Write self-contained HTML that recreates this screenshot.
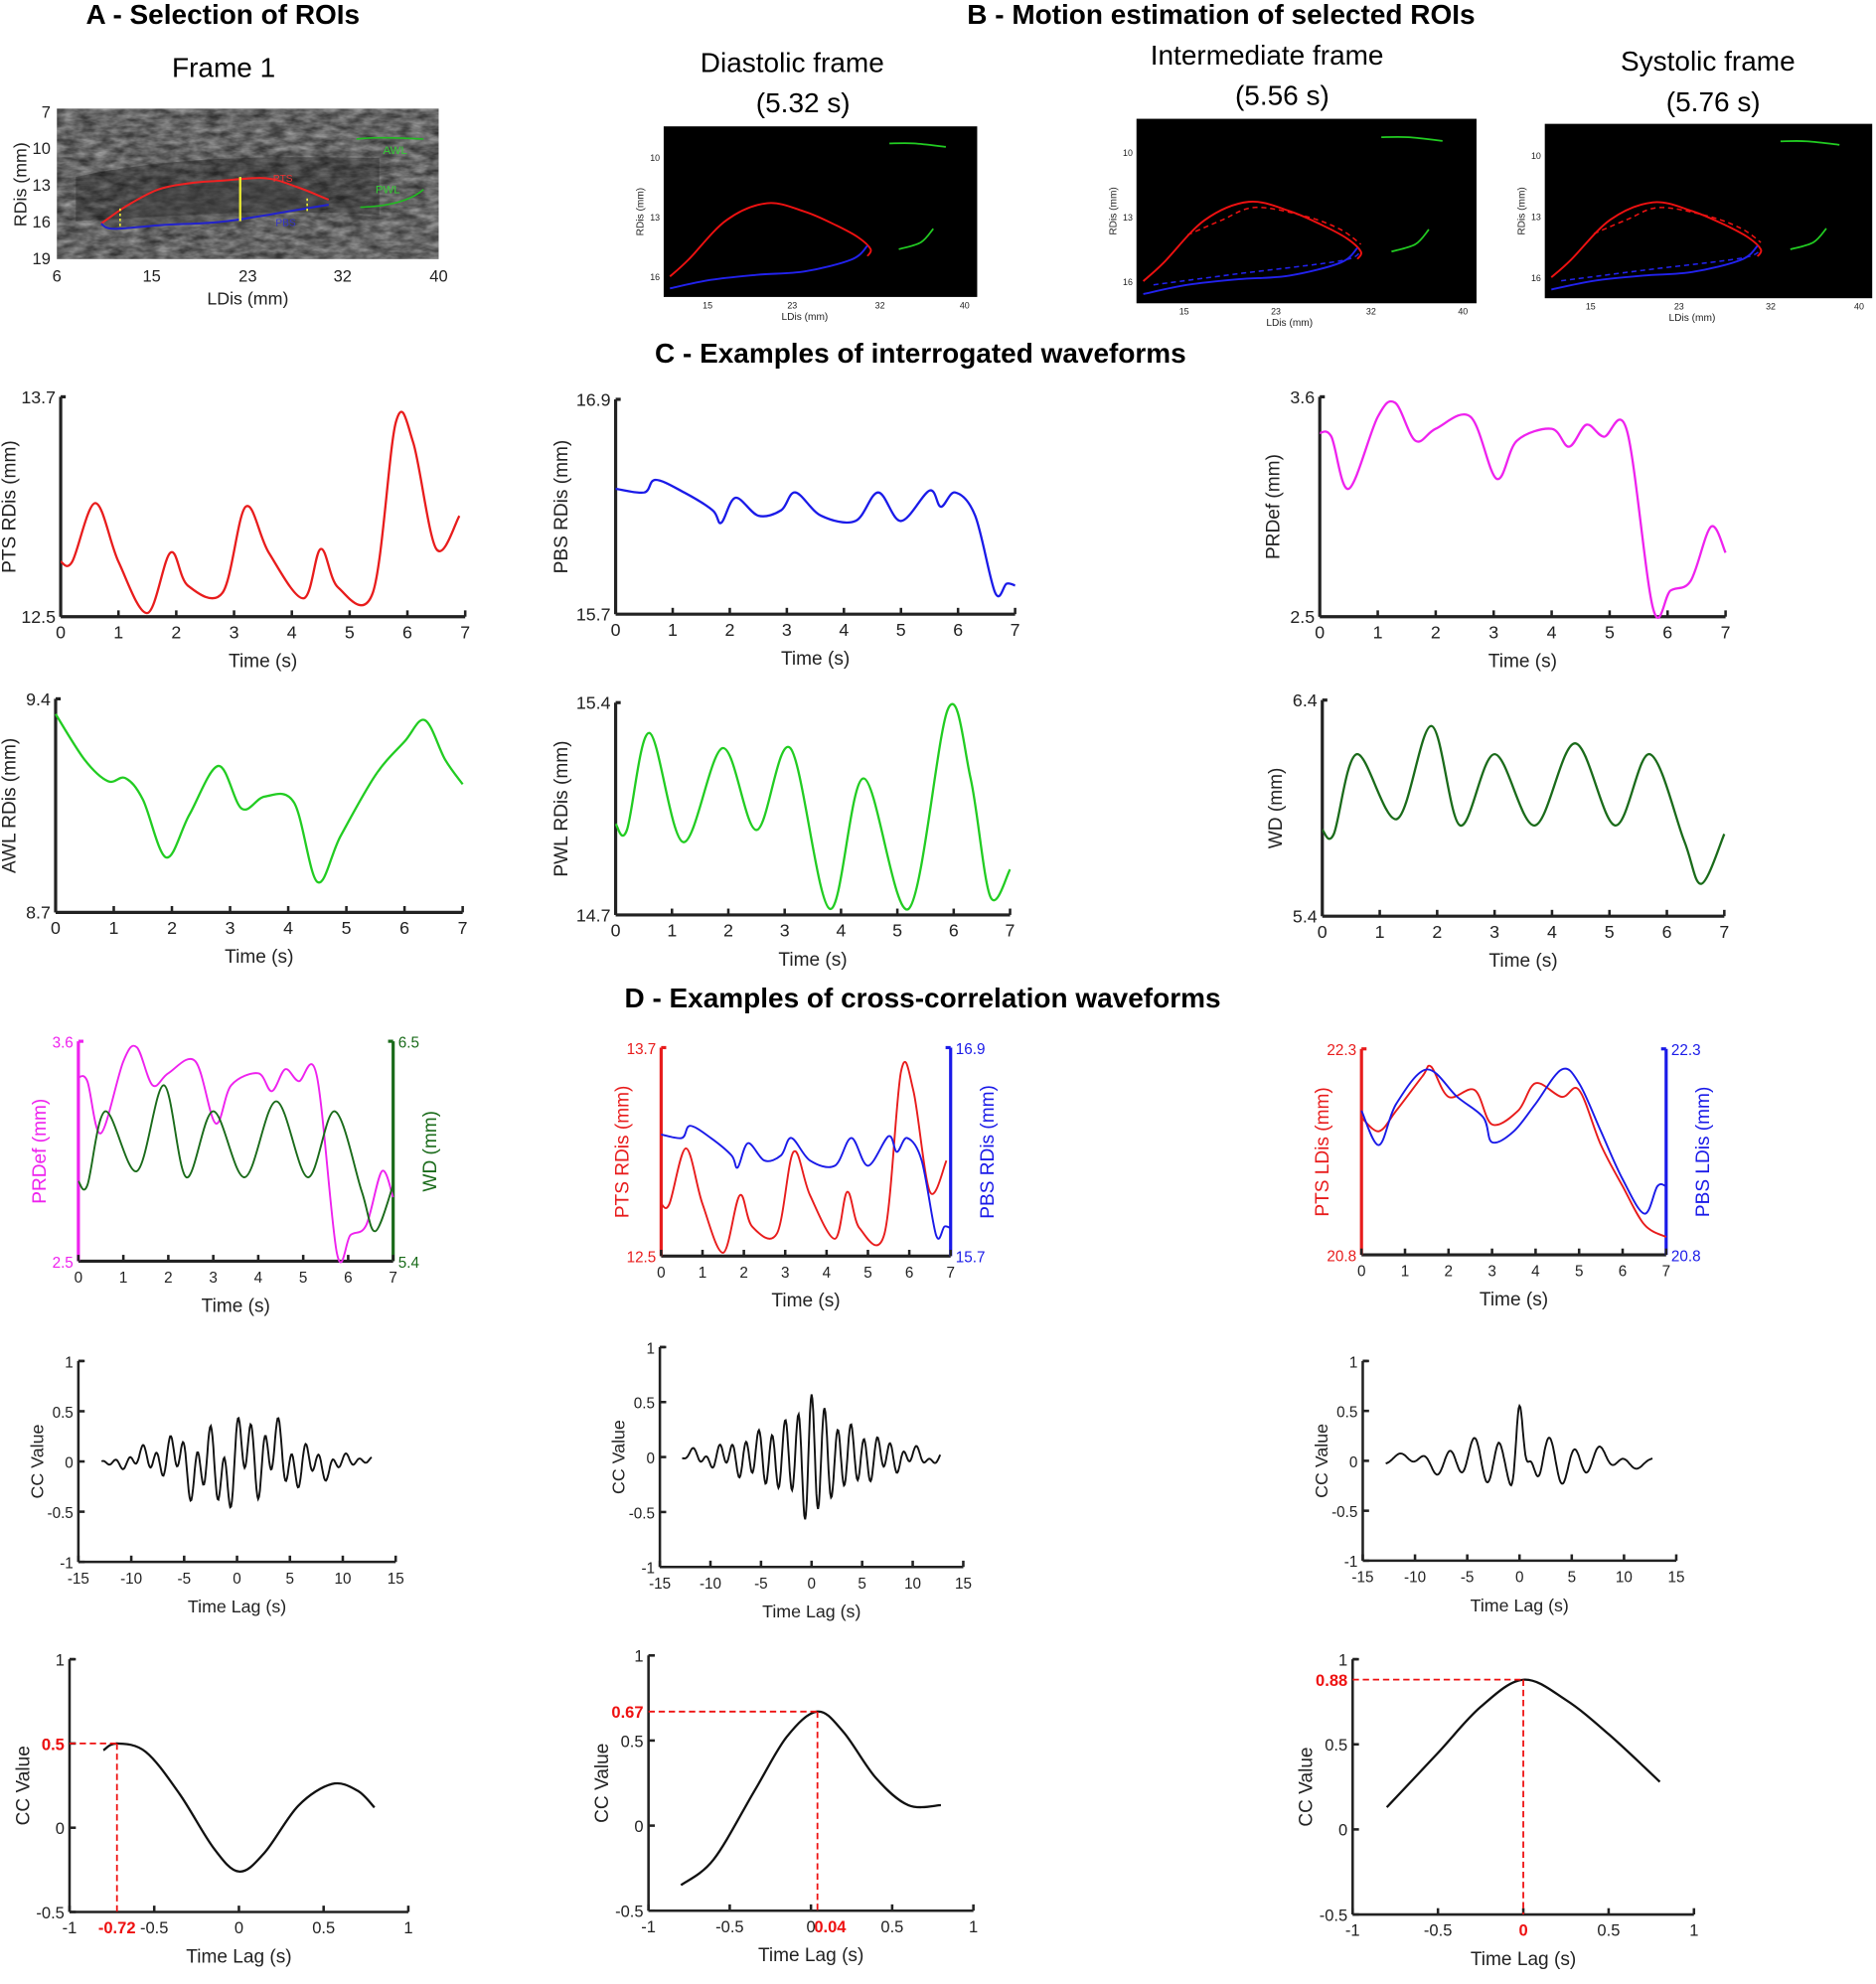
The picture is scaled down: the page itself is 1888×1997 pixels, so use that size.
<!DOCTYPE html>
<html><head><meta charset="utf-8">
<style>
html,body{margin:0;padding:0;background:#fff;}
svg{display:block;}
text{font-family:"Liberation Sans",Arial,sans-serif;fill:#222;}
.h{font-size:22px;font-weight:bold;fill:#000;}
.f{font-size:22px;fill:#000;}
</style></head><body>
<svg id="s" width="1888" height="1997" viewBox="0 0 1484 1570" preserveAspectRatio="none" xmlns="http://www.w3.org/2000/svg">
<defs>
<filter id="n" x="0" y="0" width="1" height="1"><feTurbulence type="fractalNoise" baseFrequency="0.08 0.2" numOctaves="3" seed="4"/><feColorMatrix type="matrix" values="0 0 0 0 0.5  0 0 0 0 0.5  0 0 0 0 0.5  0 0 0 -1.3 1.1"/></filter>
</defs>
<text class="h" x="68" y="19">A - Selection of ROIs</text>
<text class="f" x="136" y="61">Frame 1</text>
<text class="h" x="765" y="19">B - Motion estimation of selected ROIs</text>
<text class="f" x="554" y="57">Diastolic frame</text><text class="f" x="598" y="89">(5.32 s)</text>
<text class="f" x="910" y="51">Intermediate frame</text><text class="f" x="977" y="83">(5.56 s)</text>
<text class="f" x="1282" y="56">Systolic frame</text><text class="f" x="1318" y="88">(5.76 s)</text>
<text class="h" x="518" y="287">C - Examples of interrogated waveforms</text>
<text class="h" x="494" y="797">D - Examples of cross-correlation waveforms</text>
<g id="g"></g>
</svg>
<script>
const NS="http://www.w3.org/2000/svg",G=document.getElementById('g');
function el(t,a,txt){const e=document.createElementNS(NS,t);for(const k in a)e.setAttribute(k,a[k]);if(txt!==undefined)e.textContent=txt;G.appendChild(e);return e;}
function spline(pts){
 let d="M"+pts[0][0]+","+pts[0][1];
 for(let i=0;i<pts.length-1;i++){const p0=pts[i-1]||pts[i],p1=pts[i],p2=pts[i+1],p3=pts[i+2]||p2;
  const c1=[p1[0]+(p2[0]-p0[0])/6,p1[1]+(p2[1]-p0[1])/6],c2=[p2[0]-(p3[0]-p1[0])/6,p2[1]-(p3[1]-p1[1])/6];
  d+=` C${c1[0].toFixed(1)},${c1[1].toFixed(1)} ${c2[0].toFixed(1)},${c2[1].toFixed(1)} ${p2[0].toFixed(1)},${p2[1].toFixed(1)}`;}
 return d;}
function mapper(x0,x1,xa,xb,y0,y1,ya,yb){return p=>[x0+(p[0]-xa)/(xb-xa)*(x1-x0),y1-(p[1]-ya)/(yb-ya)*(y1-y0)];}
function curve(m,data,col,w,dash){el('path',{d:spline(data.map(m)),fill:'none',stroke:col,'stroke-width':w||1.6,'stroke-dasharray':dash||'none'});}
function axes(x0,x1,y0,y1,o){
 const sw=o.sw||2.5;
 el('line',{x1:x0,y1:y1,x2:x1,y2:y1,stroke:'#222','stroke-width':sw});
 el('line',{x1:x0,y1:y0,x2:x0,y2:y1,stroke:o.colL||'#222','stroke-width':sw});
 el('line',{x1:x0,y1:y0,x2:x0+4,y2:y0,stroke:o.colL||'#222','stroke-width':sw});
 if(o.colR){el('line',{x1:x1,y1:y0,x2:x1,y2:y1,stroke:o.colR,'stroke-width':sw});el('line',{x1:x1,y1:y0,x2:x1-4,y2:y0,stroke:o.colR,'stroke-width':sw});}
 const fs=o.fs||13;
 o.xt.forEach(v=>{const x=x0+(v-o.xr[0])/(o.xr[1]-o.xr[0])*(x1-x0);
  el('line',{x1:x,y1:y1,x2:x,y2:y1-5,stroke:'#222','stroke-width':2});
  el('text',{x:x,y:y1+17,'text-anchor':'middle',style:`font-size:${fs}px`},String(v));});
 o.yt.forEach(v=>{const y=y1-(v-o.yr[0])/(o.yr[1]-o.yr[0])*(y1-y0);
  if(o.ytick)el('line',{x1:x0,y1:y,x2:x0+5,y2:y,stroke:'#222','stroke-width':2});
  el('text',{x:x0-4,y:y+5,'text-anchor':'end',style:`font-size:${fs}px;fill:${o.colL||'#222'}`},String(v));});
 if(o.yrt)o.yrt.forEach(v=>{const y=y1-(v-o.yr2[0])/(o.yr2[1]-o.yr2[0])*(y1-y0);
  el('text',{x:x1+4,y:y+5,style:`font-size:${fs}px;fill:${o.colR}`},String(v));});
 if(o.xl)el('text',{x:(x0+x1)/2,y:y1+40,'text-anchor':'middle',style:`font-size:${o.lfs||16}px`},o.xl);
 if(o.yl){const cx=x0-(o.ylo||32),cy=(y0+y1)/2;el('text',{x:cx,y:cy,'text-anchor':'middle',transform:`rotate(-90 ${cx} ${cy})`,style:`font-size:${o.lfs||16}px;fill:${o.colL||'#222'}`},o.yl);}
 if(o.yl2){const cx=x1+(o.ylo2||30),cy=(y0+y1)/2;el('text',{x:cx,y:cy,'text-anchor':'middle',transform:`rotate(-90 ${cx} ${cy})`,style:`font-size:${o.lfs||16}px;fill:${o.colR}`},o.yl2);}
}
const T=[0,1,2,3,4,5,6,7];
const PTS=[[0,12.8],[0.2,12.8],[0.6,13.12],[1,12.8],[1.5,12.52],[1.9,12.85],[2.2,12.67],[2.8,12.63],[3.2,13.1],[3.6,12.85],[4.2,12.6],[4.5,12.87],[4.8,12.66],[5.4,12.63],[5.8,13.56],[6.1,13.45],[6.5,12.87],[6.9,13.05]];
const PBS=[[0,16.4],[0.5,16.38],[0.7,16.45],[1.2,16.38],[1.7,16.28],[1.85,16.21],[2.1,16.35],[2.5,16.25],[2.9,16.28],[3.15,16.38],[3.6,16.25],[4.2,16.22],[4.6,16.38],[5,16.22],[5.5,16.39],[5.7,16.3],[5.95,16.38],[6.3,16.25],[6.65,15.82],[6.85,15.87],[7,15.86]];
const PRD=[[0,3.42],[0.2,3.4],[0.5,3.14],[1,3.5],[1.3,3.57],[1.65,3.38],[2,3.44],[2.6,3.5],[3.05,3.19],[3.4,3.38],[4,3.44],[4.3,3.35],[4.6,3.46],[4.9,3.4],[5.3,3.43],[5.75,2.54],[6.05,2.63],[6.4,2.68],[6.75,2.95],[7,2.82]];
const AWL=[[0,9.35],[0.5,9.2],[0.9,9.13],[1.2,9.14],[1.5,9.07],[1.9,8.88],[2.3,9.02],[2.8,9.18],[3.2,9.04],[3.6,9.08],[4.1,9.06],[4.5,8.8],[4.9,8.95],[5.5,9.15],[6,9.26],[6.35,9.33],[6.7,9.2],[7,9.12]];
const PWL=[[0,15.0],[0.2,14.98],[0.6,15.3],[1.2,14.94],[1.9,15.25],[2.5,14.98],[3.1,15.25],[3.8,14.72],[4.4,15.15],[5.2,14.72],[5.9,15.38],[6.3,15.15],[6.65,14.76],[7,14.85]];
const WD=[[0,5.8],[0.2,5.78],[0.6,6.15],[1.3,5.85],[1.9,6.28],[2.4,5.82],[3,6.15],[3.7,5.82],[4.4,6.2],[5.1,5.82],[5.7,6.15],[6.3,5.75],[6.6,5.55],[7,5.78]];
const LR=[[0,21.8],[0.4,21.7],[0.8,21.85],[1.4,22.1],[1.6,22.17],[2,21.95],[2.6,22],[3,21.75],[3.6,21.85],[4,22.05],[4.6,21.95],[5,22.0],[5.5,21.6],[6,21.3],[6.5,21.02],[7,20.93]];
const LB=[[0,21.85],[0.4,21.6],[0.8,21.9],[1.5,22.15],[2.2,21.95],[2.8,21.8],[3,21.62],[3.5,21.7],[4,21.9],[4.6,22.15],[5,22.05],[5.5,21.7],[6,21.35],[6.5,21.1],[6.8,21.3],[7,21.3]];
el('rect',{x:45,y:86,width:302,height:119,fill:'#333'});
el('rect',{x:45,y:86,width:302,height:119,filter:'url(#n)',opacity:0.8});
el('path',{d:'M60,140 C150,120 250,125 300,125 L300,170 C220,165 150,170 60,175Z',fill:'#111',opacity:0.35});
el('path',{d:'M82,176 C100,165 120,150 150,146 C175,143 190,140 215,140 C235,142 250,150 258,155 L258,165 C220,170 160,176 120,178 L85,180Z',fill:'#444',opacity:0.4});
el('path',{d:spline([[80,177],[100,163],[125,150],[150,145],[175,143],[210,141],[235,148],[255,156],[260,158]]),fill:'none',stroke:'#e22','stroke-width':1.6});
el('path',{d:spline([[80,177],[90,181],[130,178],[170,176],[200,172],[230,167],[260,162]]),fill:'none',stroke:'#22c','stroke-width':1.6});
el('line',{x1:190,y1:140,x2:190,y2:175,stroke:'#ee3','stroke-width':1.8});
el('line',{x1:95,y1:165,x2:95,y2:181,stroke:'#ee3','stroke-width':1.3,'stroke-dasharray':'2,2'});
el('line',{x1:243,y1:157,x2:243,y2:168,stroke:'#ee3','stroke-width':1.3,'stroke-dasharray':'2,2'});
el('text',{x:216,y:144,style:'font-size:8px;fill:#e33'},'PTS');el('text',{x:218,y:179,style:'font-size:8px;fill:#33c'},'PBS');
el('path',{d:'M282,110 Q300,108 335,110',fill:'none',stroke:'#2b2','stroke-width':1.3});el('text',{x:303,y:122,style:'font-size:9px;fill:#3c3'},'AWL');
el('path',{d:'M285,164 Q320,163 335,150',fill:'none',stroke:'#2b2','stroke-width':1.3});el('text',{x:297,y:153,style:'font-size:9px;fill:#3c3'},'PWL');
[[7,88],[10,117],[13,146],[16,175],[19,204]].forEach(a=>el('text',{x:40,y:a[1]+5,'text-anchor':'end',style:'font-size:13px'},a[0]));
[[6,45],[15,120],[23,196],[32,271],[40,347]].forEach(a=>el('text',{x:a[1],y:223,'text-anchor':'middle',style:'font-size:13px'},a[0]));
el('text',{x:196,y:241,'text-anchor':'middle',style:'font-size:14px'},'LDis (mm)');
el('text',{x:21,y:146,'text-anchor':'middle',transform:'rotate(-90 21 146)',style:'font-size:14px'},'RDis (mm)');
function frame(x,y,w,h,s,dash){el('rect',{x:x,y:y,width:w,height:h,fill:'#000'});
 const P=(a)=>a.map(p=>[x+p[0]*w,y+p[1]*h]);
 el('path',{d:spline(P([[0.02,0.88],[0.08,0.78],[0.2,0.55],[0.33,0.45],[0.45,0.5],[0.55,0.58],[0.62,0.65],[0.66,0.72],[0.65,0.76]])),fill:'none',stroke:'#e11','stroke-width':1.5});
 el('path',{d:spline(P([[0.02,0.95],[0.15,0.9],[0.3,0.87],[0.45,0.85],[0.6,0.78],[0.65,0.7]])),fill:'none',stroke:'#22e','stroke-width':1.5});
 if(dash){el('path',{d:spline(P([[0.15,0.63],[0.25,0.55],[0.35,0.48],[0.5,0.53],[0.6,0.6],[0.66,0.68]])),fill:'none',stroke:'#e11','stroke-width':1.2,'stroke-dasharray':'4,3'});
  el('path',{d:spline(P([[0.05,0.9],[0.3,0.84],[0.6,0.77],[0.66,0.72]])),fill:'none',stroke:'#22e','stroke-width':1.2,'stroke-dasharray':'4,3'});}
 el('path',{d:spline(P([[0.72,0.1],[0.8,0.1],[0.9,0.12]])),fill:'none',stroke:'#2c2','stroke-width':1.4});
 el('path',{d:spline(P([[0.75,0.72],[0.82,0.68],[0.86,0.6]])),fill:'none',stroke:'#2c2','stroke-width':1.4});
 [[10,0.18],[13,0.53],[16,0.88]].forEach(a=>el('text',{x:x-3,y:y+a[1]*h+3,'text-anchor':'end',style:'font-size:7px'},a[0]));
 [[15,0.14],[23,0.41],[32,0.69],[40,0.96]].forEach(a=>el('text',{x:x+a[1]*w,y:y+h+9,'text-anchor':'middle',style:'font-size:7px'},a[0]));
 el('text',{x:x+w*0.45,y:y+h+18,'text-anchor':'middle',style:'font-size:8px'},'LDis (mm)');
 el('text',{x:x-16,y:y+h/2,'text-anchor':'middle',transform:`rotate(-90 ${x-16} ${y+h/2})`,style:'font-size:8px'},'RDis (mm)');}
frame(525,100,248,135,0,false);frame(899,94,269,146,0,true);frame(1222,98,259,138,0,true);
function tplot(x0,x1,y0,y1,yr,yt,data,col,ylo,yl){axes(x0,x1,y0,y1,{xt:T,xr:[0,7],yt:yt,yr:yr,xl:'Time (s)',yl:yl,fs:14,lfs:15,ylo:ylo});curve(mapper(x0,x1,0,7,y0,y1,yr[0],yr[1]),data,col,1.8);}
tplot(48,368,314,488,[12.5,13.7],['12.5','13.7'],PTS,'#e81c1c',36,'PTS RDis (mm)');
tplot(487,803,316,486,[15.7,16.9],['15.7','16.9'],PBS,'#1a1ae8',38,'PBS RDis (mm)');
tplot(1044,1365,314,488,[2.5,3.6],['2.5','3.6'],PRD,'#ee22ee',32,'PRDef (mm)');
tplot(44,366,553,722,[8.7,9.4],['8.7','9.4'],AWL,'#22cc22',32,'AWL RDis (mm)');
tplot(487,799,556,724,[14.7,15.4],['14.7','15.4'],PWL,'#22cc22',38,'PWL RDis (mm)');
tplot(1046,1364,554,725,[5.4,6.4],['5.4','6.4'],WD,'#1a6b1a',32,'WD (mm)');
function dplot(x0,x1,y0,y1,cl,cr,yr,yr2,yt,yt2,d1,d2,yl,yl2){
 axes(x0,x1,y0,y1,{xt:T,xr:[0,7],yt:yt,yr:yr,yrt:yt2,yr2:yr2,colL:cl,colR:cr,xl:'Time (s)',yl:yl,yl2:yl2,fs:12,lfs:15,ylo:26,ylo2:34});
 curve(mapper(x0,x1,0,7,y0,y1,yr[0],yr[1]),d1,cl,1.5);curve(mapper(x0,x1,0,7,y0,y1,yr2[0],yr2[1]),d2,cr,1.5);}
dplot(62,311,824,998,'#ee22ee','#1a6b1a',[2.5,3.6],[5.4,6.5],['2.5','3.6'],['5.4','6.5'],PRD,WD,'PRDef (mm)','WD (mm)');
dplot(523,752,829,994,'#e81c1c','#1a1ae8',[12.5,13.7],[15.7,16.9],['12.5','13.7'],['15.7','16.9'],PTS,PBS,'PTS RDis (mm)','PBS RDis (mm)');
dplot(1077,1318,830,993,'#e81c1c','#1a1ae8',[20.8,22.3],[20.8,22.3],['20.8','22.3'],['20.8','22.3'],LR,LB,'PTS LDis (mm)','PBS LDis (mm)');
function cc(x0,x1,y0,y1,f){axes(x0,x1,y0,y1,{xt:[-15,-10,-5,0,5,10,15],xr:[-15,15],yt:[-1,-0.5,0,0.5,1],yr:[-1,1],xl:'Time Lag (s)',yl:'CC Value',fs:12,lfs:14,ylo:28,sw:2,ytick:true});
 const m=mapper(x0,x1,-15,15,y0,y1,-1,1);let pts=[];for(let t=-12.8;t<=12.8;t+=0.08)pts.push(m([t,f(t)]));
 el('polyline',{points:pts.map(p=>p[0].toFixed(1)+','+p[1].toFixed(1)).join(' '),fill:'none',stroke:'#111','stroke-width':1.5});}
const env=t=>Math.exp(-t*t/60);
cc(62,313,1077,1236,t=>env(t)*(0.3*Math.sin(2*Math.PI*t/1.28+1.2)+0.2*Math.sin(2*Math.PI*t/3.2+0.5))+0.12*Math.sin(t*0.6)*Math.exp(-Math.abs(t)/8));
cc(522,762,1066,1240,t=>env(t)*(0.32*Math.sin(2*Math.PI*t/1.3+1.6)+0.25*Math.exp(-t*t/2)*Math.cos(2*Math.PI*t/1.3))+0.05*Math.sin(t*2));
cc(1078,1326,1077,1235,t=>0.55*Math.exp(-t*t/0.5)*Math.cos(3*t)+env(t)*(0.25*Math.sin(2*Math.PI*t/2.4+0.3))*Math.min(1,Math.abs(t)/2)+0.05*Math.sin(t));
function lag(x0,x1,y0,y1,data,px,py,lx,cover){axes(x0,x1,y0,y1,{xt:[-1,-0.5,0,0.5,1],xr:[-1,1],yt:[-0.5,0,0.5,1],yr:[-0.5,1],xl:'Time Lag (s)',yl:'CC Value',fs:13,lfs:15,ylo:32,sw:2,ytick:true});
 const m=mapper(x0,x1,-1,1,y0,y1,-0.5,1);curve(m,data,'#111',1.8);
 const p=m([px,py]);el('line',{x1:x0,y1:p[1],x2:p[0],y2:p[1],stroke:'#e11','stroke-width':1.4,'stroke-dasharray':'5,3'});
 el('line',{x1:p[0],y1:p[1],x2:p[0],y2:y1,stroke:'#e11','stroke-width':1.4,'stroke-dasharray':'5,3'});
 el('text',{x:x0-4,y:p[1]+5,'text-anchor':'end',style:'font-size:13px;font-weight:bold;fill:#e11'},String(py));
 if(cover)el('rect',{x:p[0]-8,y:y1+4,width:16,height:18,fill:'#fff'});
 el('text',{x:p[0]+(lx||0),y:y1+17,'text-anchor':'middle',style:'font-size:13px;font-weight:bold;fill:#e11'},String(px));}
lag(55,323,1313,1513,[[-0.8,0.46],[-0.72,0.5],[-0.55,0.45],[-0.35,0.2],[-0.15,-0.12],[0,-0.26],[0.15,-0.15],[0.35,0.13],[0.55,0.26],[0.7,0.22],[0.8,0.12]],-0.72,0.5,0,false);
lag(513,770,1310,1512,[[-0.8,-0.35],[-0.6,-0.2],[-0.35,0.2],[-0.15,0.52],[0.04,0.67],[0.2,0.55],[0.4,0.28],[0.6,0.12],[0.8,0.12]],0.04,0.67,10,false);
lag(1070,1340,1313,1515,[[-0.8,0.13],[-0.5,0.45],[-0.25,0.72],[0,0.88],[0.25,0.76],[0.5,0.56],[0.8,0.28]],0,0.88,0,true);
</script>
</body></html>
